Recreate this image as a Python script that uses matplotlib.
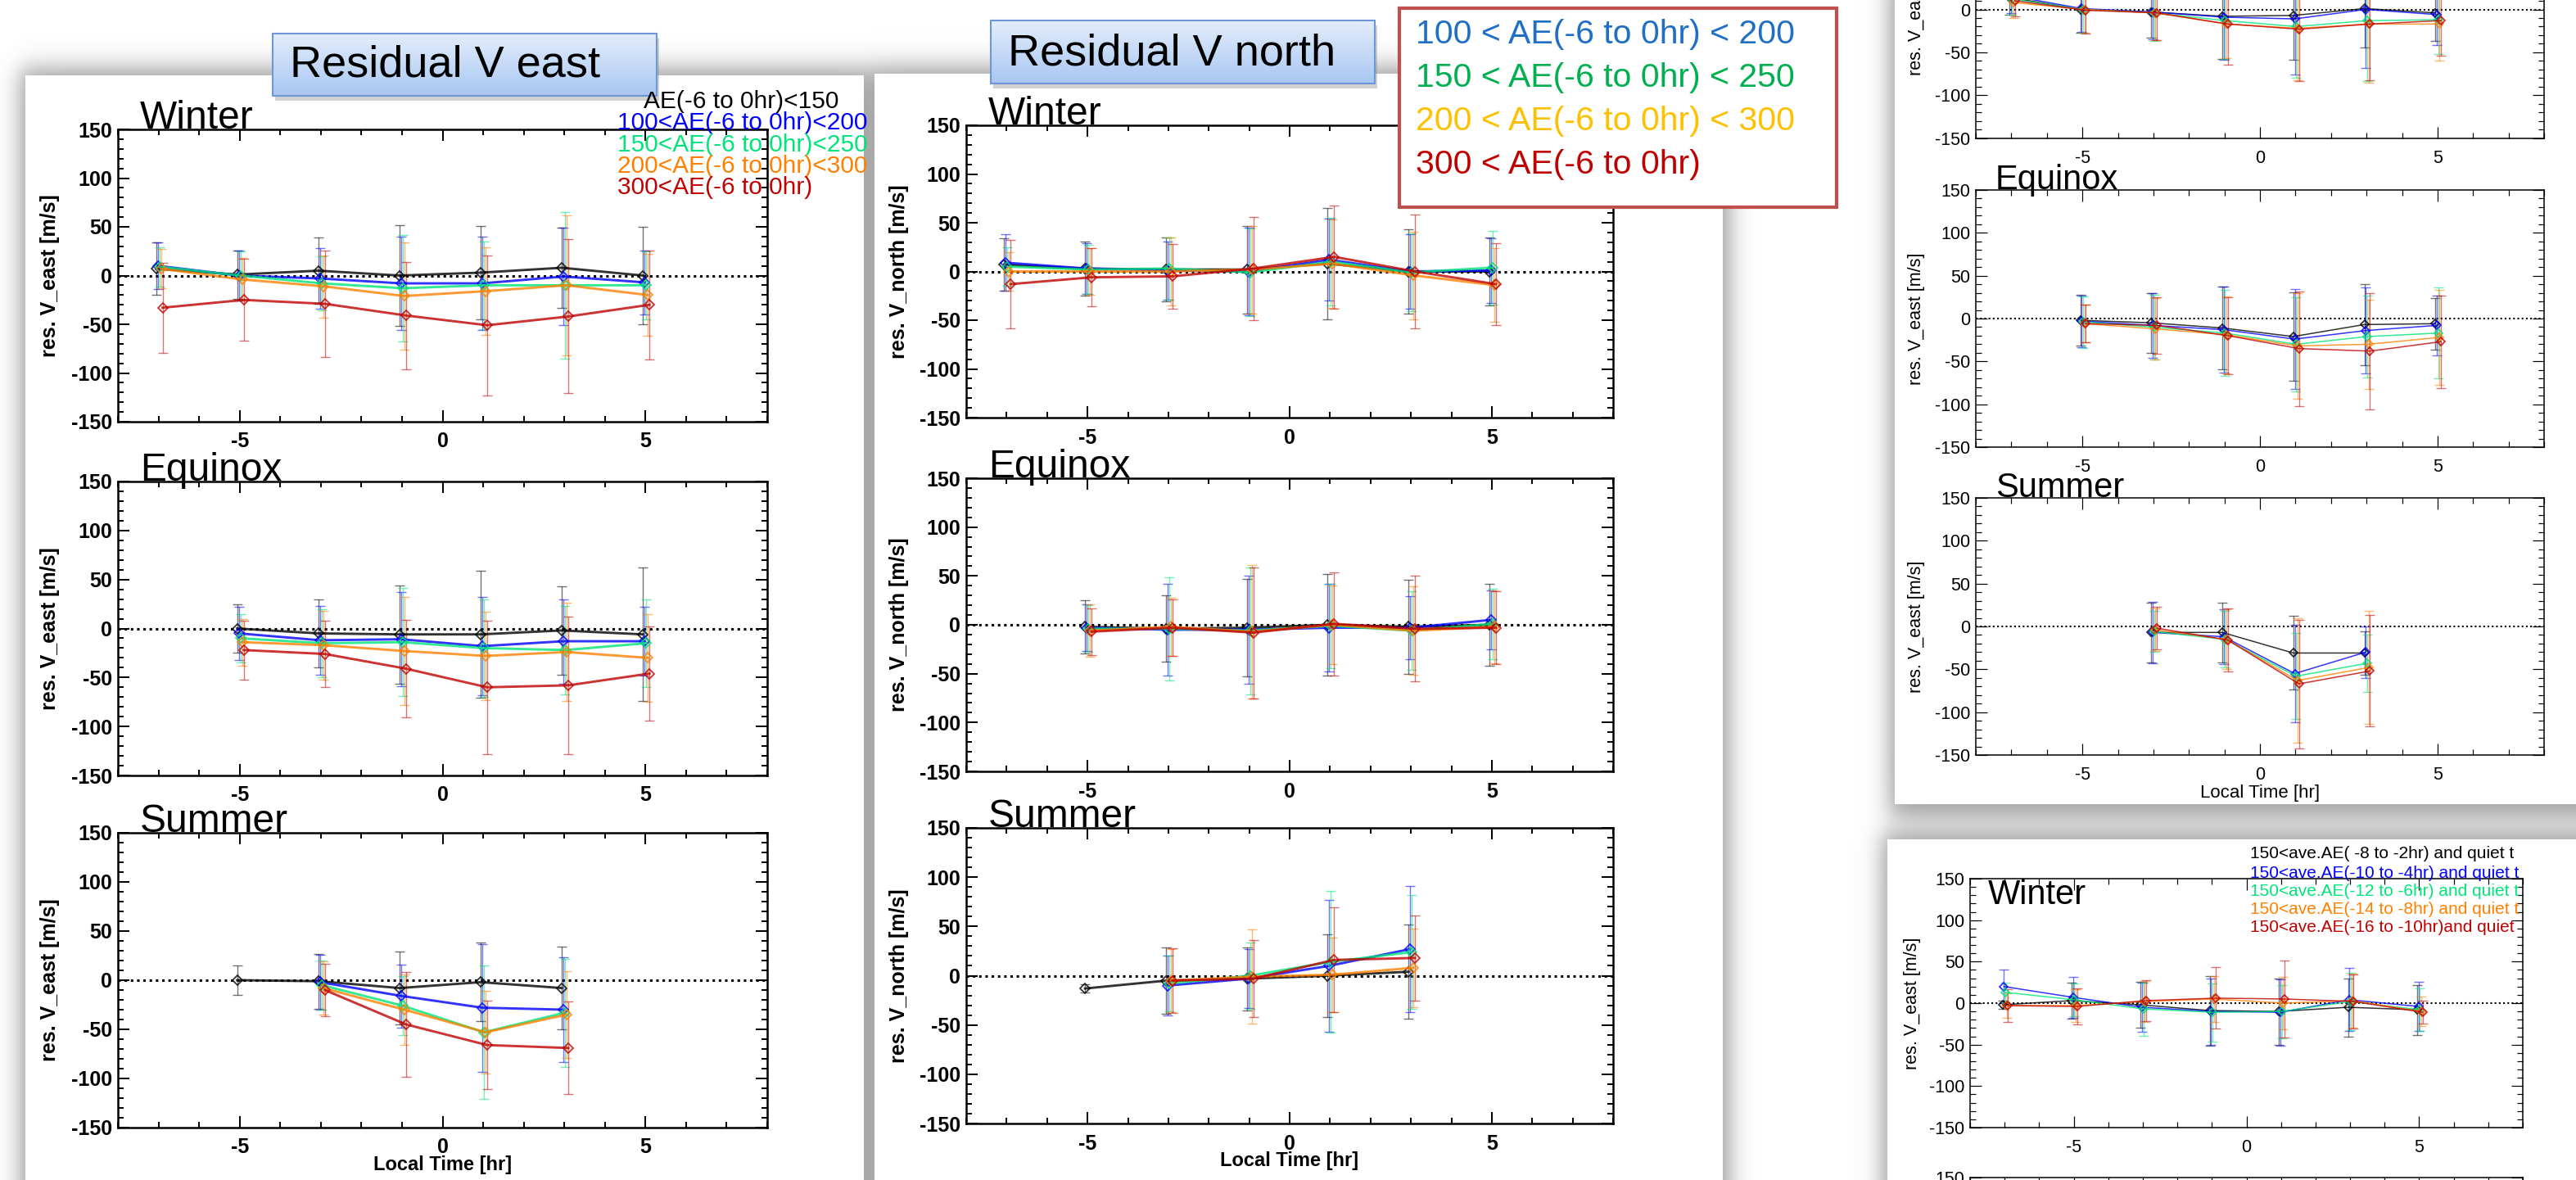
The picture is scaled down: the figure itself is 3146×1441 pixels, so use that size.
import numpy as np
import matplotlib
matplotlib.use('Agg')
import matplotlib.pyplot as plt
from matplotlib.patches import Rectangle
from matplotlib.ticker import MultipleLocator

W, H = 3146, 1441
plt.rcParams['font.family'] = ['Liberation Sans', 'DejaVu Sans']
plt.rcParams['axes.unicode_minus'] = False

nan = np.nan
lt = [-7, -5, -3, -1, 1, 3, 5]
colors = ['#000000', '#0000ff', '#00e47a', '#ff8000', '#c00000']
offsets = [-0.06, -0.02, 0.02, 0.06, 0.10]

ae_labels = ['AE(-6 to 0hr)<150', '100<AE(-6 to 0hr)<200', '150<AE(-6 to 0hr)<250',
             '200<AE(-6 to 0hr)<300', '300<AE(-6 to 0hr)']
box_labels = ['100 < AE(-6 to 0hr) < 200', '150 < AE(-6 to 0hr) < 250',
              '200 < AE(-6 to 0hr) < 300', '300 < AE(-6 to 0hr)']
box_colors = ['#1f6fc5', '#00b050', '#ffc000', '#c00000']
quiet_labels = ['150<ave.AE( -8 to -2hr) and quiet t', '150<ave.AE(-10 to -4hr) and quiet t',
                '150<ave.AE(-12 to -6hr) and quiet t', '150<ave.AE(-14 to -8hr) and quiet t',
                '150<ave.AE(-16 to -10hr)and quiet']

# Residual V east (left card): mean / std, rows = black, blue, green, orange, red
e_win_m = [[7, 1, 5, 0, 3, 8, 0], [10, 0, -3, -8, -8, -1, -7], [9, 0, -8, -13, -10, -10, -10],
           [7, -4, -11, -21, -16, -10, -20], [-33, -25, -29, -41, -51, -42, -30]]
e_win_s = [[27, 25, 34, 52, 48, 41, 50], [24, 26, 31, 48, 48, 50, 33], [20, 25, 28, 55, 45, 75, 35],
           [20, 22, 32, 55, 45, 72, 42], [46, 42, 55, 55, 72, 79, 56]]
e_equ_m = [[nan, 0, -5, -6, -6, -2, -6], [nan, -5, -12, -11, -18, -13, -13], [nan, -10, -15, -14, -20, -22, -15],
           [nan, -14, -17, -23, -28, -24, -30], [nan, -22, -26, -41, -60, -58, -46]]
e_equ_s = [[nan, 25, 35, 50, 65, 45, 68], [nan, 27, 35, 48, 50, 43, 35], [nan, 25, 35, 55, 50, 45, 45],
           [nan, 24, 35, 55, 45, 50, 45], [nan, 30, 34, 50, 68, 70, 48]]
e_sum_m = [[nan, 0, -1, -8, -2, -8, nan], [nan, nan, -2, -16, -28, -30, nan], [nan, nan, -5, -26, -53, -33, nan],
           [nan, nan, -8, -30, -53, -35, nan], [nan, nan, -10, -45, -66, -69, nan]]
e_sum_s = [[nan, 15, 28, 37, 40, 42, nan], [nan, nan, 28, 32, 65, 53, nan], [nan, nan, 25, 30, 68, 55, nan],
           [nan, nan, 27, 36, 42, 44, nan], [nan, nan, 27, 53, 45, 47, nan]]

# Residual V north (middle card)
n_win_m = [[7, 3, 2, 2, 8, 0, 0], [9, 3, 1, 0, 12, 0, 1], [5, 2, 3, -1, 10, -1, 4],
           [0, 0, 0, 2, 8, -4, -14], [-13, -6, -5, 3, 15, 0, -13]]
n_win_s = [[27, 28, 33, 45, 57, 43, 35], [29, 26, 30, 45, 42, 38, 33], [20, 25, 32, 45, 45, 40, 38],
           [20, 24, 35, 45, 45, 45, 38], [45, 30, 33, 53, 53, 58, 42]]
n_equ_m = [[nan, -2, -4, -3, 0, -2, 0], [nan, -3, -5, -5, -3, -3, 5], [nan, -4, -4, -6, -1, -6, 1],
           [nan, -6, -2, -7, 0, -6, -2], [nan, -7, -3, -8, 1, -4, -3]]
n_equ_s = [[nan, 27, 34, 50, 52, 48, 42], [nan, 24, 47, 55, 45, 32, 30], [nan, 24, 53, 65, 43, 40, 36],
           [nan, 27, 30, 68, 40, 45, 37], [nan, 24, 29, 67, 53, 54, 37]]
n_sum_m = [[nan, -13, -5, -3, 0, 4, nan], [nan, nan, -10, -3, 10, 27, nan], [nan, nan, -8, 0, 14, 24, nan],
           [nan, nan, -5, -1, 1, 8, nan], [nan, nan, -5, -3, 16, 18, nan]]
n_sum_s = [[nan, 4, 34, 32, 42, 48, nan], [nan, nan, 30, 30, 67, 64, nan], [nan, nan, 28, 34, 72, 58, nan],
           [nan, nan, 32, 48, 38, 40, nan], [nan, nan, 33, 39, 53, 43, nan]]

# right column, upper card (V east)
r_win_m = [[14, 0, -3, -8, -7, 1, -4], [16, 1, -3, -9, -11, 0, -6], [12, 0, -4, -13, -20, -13, -12],
           [8, 0, -4, -17, -22, -17, -17], [10, -1, -4, -17, -23, -17, -13]]
r_win_s = [[20, 27, 30, 50, 52, 45, 33], [20, 27, 32, 50, 65, 68, 35], [18, 27, 33, 45, 60, 70, 40],
           [18, 27, 32, 40, 60, 68, 43], [18, 27, 32, 47, 60, 65, 41]]
r_equ_m = [[nan, -2, -5, -11, -21, -7, -6], [nan, -3, -8, -13, -24, -14, -8], [nan, -4, -10, -17, -30, -21, -17],
           [nan, -6, -12, -19, -32, -30, -22], [nan, -6, -8, -20, -35, -38, -27]]
r_equ_s = [[nan, 30, 35, 48, 52, 47, 30], [nan, 30, 38, 50, 58, 50, 35], [nan, 30, 38, 50, 55, 48, 53],
           [nan, 22, 36, 45, 62, 52, 55], [nan, 22, 33, 45, 67, 68, 54]]
r_sum_m = [[nan, nan, -7, -7, -31, -31, nan], [nan, nan, -7, -12, -55, -30, nan], [nan, nan, -6, -15, -58, -43, nan],
           [nan, nan, -4, -15, -63, -48, nan], [nan, nan, -2, -16, -67, -52, nan]]
r_sum_s = [[nan, nan, 35, 35, 43, 25, nan], [nan, nan, 36, 32, 57, 30, nan], [nan, nan, 24, 33, 50, 33, nan],
           [nan, nan, 25, 35, 73, 66, nan], [nan, nan, 25, 37, 75, 65, nan]]

# right column, lower card (quiet-time selection)
q_win_m = [[-2, 3, -2, -9, -10, -5, -8], [20, 7, -5, -10, -11, 4, -4], [13, 4, -7, -11, -10, 2, -8],
           [-3, -3, 2, 5, 0, 3, -10], [-3, -4, 3, 6, 5, 2, -11]]
q_win_s = [[5, 22, 28, 42, 40, 35, 30], [20, 25, 30, 40, 40, 38, 30], [12, 20, 32, 35, 32, 35, 26],
           [15, 20, 25, 28, 32, 33, 18], [20, 22, 25, 37, 46, 33, 14]]

fig = plt.figure(figsize=(W / 100, H / 100), dpi=100)

# background with card shadows
bg = fig.add_axes([0, 0, 1, 1])
bg.set_zorder(0)
bg.axis('off')
cards = [(31, 1055, 92, 1500), (1068, 2104, 90, 1500), (2314, 3200, -40, 982), (2305, 3200, 1025, 1500)]
xs = np.arange(W) + 0.5
ys = np.arange(H) + 0.5
sig = lambda t: 1 / (1 + np.exp(-t))
alpha = np.zeros((H, W))
for x0, x1, y0, y1 in cards:
    sx = sig((xs - (x0 - 6)) / 8) * sig(((x1 + 8) - xs) / 8)
    sy = sig((ys - (y0 - 8)) / 9) * sig(((y1 + 16) - ys) / 10)
    alpha = 1 - (1 - alpha) * (1 - 0.6 * np.outer(sy, sx))
rgba = np.zeros((H, W, 4))
rgba[..., :3] = 0.36
rgba[..., 3] = alpha
bg.imshow(rgba, extent=(0, W, H, 0), interpolation='bilinear', aspect='auto')
for x0, x1, y0, y1 in cards:
    bg.add_patch(Rectangle((x0, y0), x1 - x0, y1 - y0, facecolor='white', edgecolor='none'))
bg.set_xlim(0, W)
bg.set_ylim(H, 0)


def panel(box, mean, sd, season, ylab, xlab, small=False, inside=False):
    l, t, r, b = box
    ax = fig.add_axes([l / W, 1 - b / H, (r - l) / W, (b - t) / H])
    ax.set_zorder(2)
    ax.set_facecolor('white')
    ax.set_xlim(-8, 8)
    ax.set_ylim(-150, 150)
    lw = 1.1 if small else 1.8
    weight = 'normal' if small else 'bold'
    ax.axhline(0, color='k', ls=(0, (1, 1.5)), lw=lw + 0.4, zorder=1)
    for i in range(5):
        x = np.array(lt) + offsets[i]
        m = np.array(mean[i], float)
        s = np.array(sd[i], float)
        ok = ~np.isnan(m)
        ax.errorbar(x[ok], m[ok], yerr=s[ok], fmt='none', ecolor=colors[i], elinewidth=1.0,
                    capsize=4, capthick=1.0, alpha=0.55, zorder=2)
        ax.plot(x[ok], m[ok], color=colors[i], lw=lw if small else 2.1, alpha=0.8, marker='D',
                ms=5 if small else 6.5, mfc='none', mew=1.3, zorder=3)
    ax.xaxis.set_major_locator(MultipleLocator(5))
    ax.xaxis.set_minor_locator(MultipleLocator(1))
    ax.yaxis.set_major_locator(MultipleLocator(50))
    ax.yaxis.set_minor_locator(MultipleLocator(10))
    fs = 15.5 if small else 18
    ax.tick_params(which='both', direction='in', top=True, right=True, width=lw * 0.8, labelsize=fs)
    ax.tick_params(which='major', length=10)
    ax.tick_params(which='minor', length=5)
    ax.tick_params(axis='x', pad=10 if small else 9)
    ax.tick_params(axis='y', pad=5)
    for lab in ax.get_xticklabels() + ax.get_yticklabels():
        lab.set_fontweight(weight)
    for sp in ax.spines.values():
        sp.set_linewidth(lw)
    ax.set_ylabel(ylab, fontsize=fs, fontweight=weight)
    ax.yaxis.set_label_coords(-0.089, 0.5)
    if xlab:
        ax.set_xlabel('Local Time [hr]', fontsize=16 if small else 17, fontweight=weight)
        ax.xaxis.set_label_coords(0.5, -0.115 if small else -0.095)
    if season:
        if inside:
            ax.text(0.033, 1.0, season, transform=ax.transAxes, fontsize=30, va='top', ha='left')
        else:
            ax.text(0.034, 1.004, season, transform=ax.transAxes, fontsize=30 if small else 34.5,
                    va='baseline', ha='left')
    return ax


ylab_e = 'res. V_east [m/s]'
ylab_n = 'res. V_north [m/s]'
panel((144, 158, 937, 515), e_win_m, e_win_s, 'Winter', ylab_e, False)
panel((144, 588, 937, 947), e_equ_m, e_equ_s, 'Equinox', ylab_e, False)
panel((144, 1017, 937, 1377), e_sum_m, e_sum_s, 'Summer', ylab_e, True)
panel((1180, 153, 1970, 510), n_win_m, n_win_s, 'Winter', ylab_n, False)
panel((1180, 584, 1970, 942), n_equ_m, n_equ_s, 'Equinox', ylab_n, False)
panel((1180, 1011, 1970, 1372), n_sum_m, n_sum_s, 'Summer', ylab_n, True)
panel((2413, -146, 3107, 169), r_win_m, r_win_s, None, ylab_e, False, small=True)
panel((2413, 232, 3107, 546), r_equ_m, r_equ_s, 'Equinox', ylab_e, False, small=True)
panel((2413, 608, 3107, 922), r_sum_m, r_sum_s, 'Summer', ylab_e, True, small=True)
panel((2406, 1073, 3081, 1377), q_win_m, q_win_s, 'Winter', ylab_e, False, small=True, inside=True)
panel((2406, 1438, 3081, 1742), q_win_m, q_win_s, None, ylab_e, False, small=True)

# overlay: title boxes and legends
fg = fig.add_axes([0, 0, 1, 1])
fg.set_zorder(5)
fg.patch.set_alpha(0)
fg.axis('off')

grad = np.linspace(0, 1, 64)[:, None]
top_c = np.array([0.89, 0.93, 0.985])
bot_c = np.array([0.66, 0.78, 0.95])
grad_img = top_c + (bot_c - top_c) * grad[..., None]
for (x0, y0, x1, y1), title, ty in [((333, 41, 802, 117), 'Residual V east', 80),
                                    ((1210, 25, 1679, 102), 'Residual V north', 66)]:
    fg.add_patch(Rectangle((x0 + 3, y0 + 6), x1 - x0, y1 - y0, facecolor='0.5', alpha=0.35,
                           edgecolor='none'))
    fg.imshow(np.repeat(grad_img, 2, axis=1), extent=(x0, x1, y1, y0), aspect='auto', zorder=2)
    fg.add_patch(Rectangle((x0, y0), x1 - x0, y1 - y0, facecolor='none', edgecolor='#6f97d8',
                           lw=1.5, zorder=3))
    fg.text(x0 + 21, ty, title, fontsize=39, va='center', ha='left', zorder=4)
fg.set_xlim(0, W)
fg.set_ylim(H, 0)

# legend of the left card
for i, (lab, c) in enumerate(zip(ae_labels, colors)):
    fg.text(786 if i == 0 else 754, [124, 150, 177, 203, 229][i], lab, color=c, fontsize=21.5,
            va='center', ha='left')

# red framed legend box
fg.add_patch(Rectangle((1709, 10), 534, 243, facecolor='white', edgecolor='#c0504d', lw=3, zorder=3))
for i, (lab, c) in enumerate(zip(box_labels, box_colors)):
    fg.text(1729, [42, 95, 148, 201][i], lab, color=c, fontsize=29.5, va='center', ha='left', zorder=4)

# legend of the lower right card
for i, (lab, c) in enumerate(zip(quiet_labels, colors)):
    fg.text(2748, [1043, 1066, 1088, 1111, 1133][i], lab, color=c, fontsize=15, va='center', ha='left')

fig.savefig('out.png', dpi=100)
